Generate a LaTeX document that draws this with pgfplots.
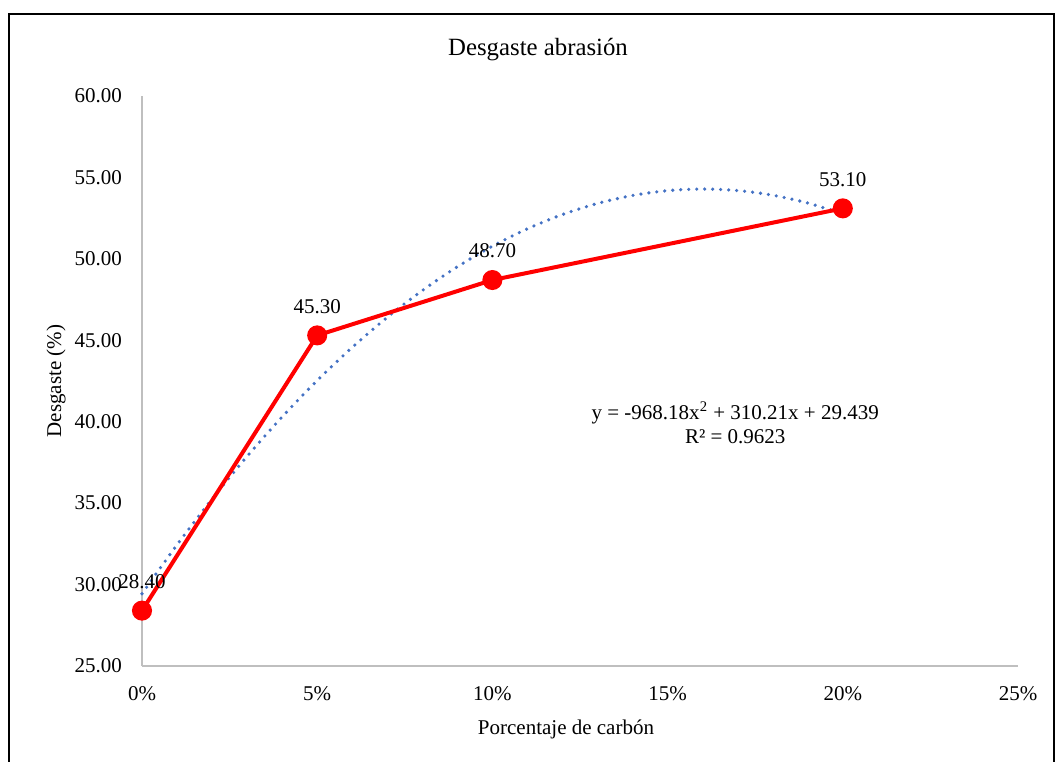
\documentclass[border=0pt]{standalone}
\usepackage{pgfplots}
\pgfplotsset{compat=1.18}
\usepackage{fontspec}
\setmainfont{Liberation Serif}
\definecolor{trend}{RGB}{68,114,196}
\definecolor{axgray}{RGB}{191,191,191}
\begin{document}
\begin{tikzpicture}[x=0.5pt,y=0.5pt]
\useasboundingbox (0,0) rectangle (1055,761);
\draw[line width=1.2pt] (9,-5) -- (9,747) -- (1054,747) -- (1054,-5);
\node[font=\fontsize{12.4}{14}\selectfont] at (538,711) {Desgaste abrasión};
\coordinate (o) at (142,95);
\begin{axis}[
  at={(o)}, anchor=origin,
  scale only axis, width=438pt, height=285pt,
  xmin=0, xmax=0.25, ymin=25, ymax=60,
  axis x line=bottom, axis y line=left,
  axis line style={axgray, line width=0.8pt, -},
  xtick={0,0.05,0.1,0.15,0.2,0.25},
  xticklabels={0\%,5\%,10\%,15\%,20\%,25\%},
  ytick={25,30,35,40,45,50,55,60},
  /pgf/number format/assume math mode=true,
  yticklabel style={/pgf/number format/fixed, /pgf/number format/zerofill, /pgf/number format/precision=2, xshift=-6.5pt},
  major tick length=0pt,
  tick label style={font=\fontsize{10.5}{12}\selectfont, text=black},
  xticklabel style={yshift=-6.5pt},
  xlabel={Porcentaje de carbón}, ylabel={Desgaste (\%)},
  label style={font=\fontsize{10.5}{12}\selectfont},
  xlabel style={at={(axis description cs:0.484,0)}, anchor=center, yshift=-31.5pt},
  ylabel style={at={(axis description cs:0,0.5)}, anchor=center, yshift=43pt},
  clip=false,
]
\addplot[trend, line width=1.8pt, dash pattern=on 0pt off 4pt, line cap=round, smooth] coordinates {
(0,29.439) (0.01,32.444) (0.02,35.256) (0.03,37.874) (0.04,40.298) (0.05,42.529)
(0.06,44.566) (0.07,46.410) (0.08,48.059) (0.09,49.516) (0.10,50.778)
(0.11,51.847) (0.12,52.723) (0.13,53.404) (0.14,53.892) (0.15,54.187)
(0.16,54.287) (0.17,54.194) (0.18,53.908) (0.19,53.428) (0.20,52.754)};
\addplot[red, line width=2pt, mark=*, mark size=4pt, mark options={fill=red},
  nodes near coords={\pgfmathprintnumber[fixed,zerofill,precision=2]{\pgfplotspointmeta}},
  every node near coord/.append style={text=black, anchor=south, inner sep=0pt, yshift=10pt, font=\fontsize{10.5}{12}\selectfont},
  point meta=y] coordinates {
(0,28.40) (0.05,45.30) (0.10,48.70) (0.20,53.10)};
\node[align=center, font=\fontsize{10.5}{12}\selectfont, inner sep=0pt] at (axis cs:0.1693,39.93) {y = -968.18x\textsuperscript{2} + 310.21x + 29.439\\R² = 0.9623};
\end{axis}
\end{tikzpicture}
\end{document}
